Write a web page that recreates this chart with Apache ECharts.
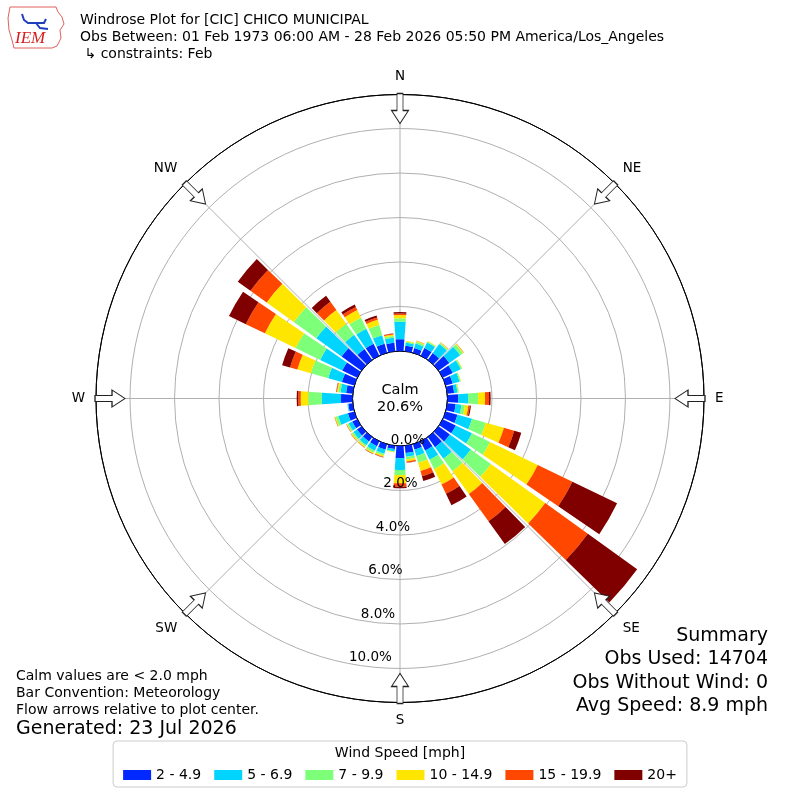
<!DOCTYPE html>
<html>
<head>
<meta charset="utf-8">
<script src="https://cdn.jsdelivr.net/npm/echarts@6/dist/echarts.min.js"></script>
<style>html,body{margin:0;padding:0;background:#fff}#c{width:800px;height:800px}</style>
</head>
<body>
<div id="c"></div>
<script>
// ---------------- data ----------------
const directions = [0,10,20,30,40,50,60,70,80,90,100,110,120,130,140,150,160,170,180,190,200,210,220,230,240,250,260,270,280,290,300,310,320,330,340,350];
const speedBins = ['2 - 4.9','5 - 6.9','7 - 9.9','10 - 14.9','15 - 19.9','20+'];
const binColors = ['#0028ff','#00d4ff','#7dff7a','#ffe600','#ff4700','#800000'];
// percent of observations per direction (N, 10, 20 ... 350) for each speed bin
const spd2to5   = [0.53,0.25,0.22,0.39,0.38,0.60,0.50,0.33,0.31,0.49,0.38,0.55,0.65,0.63,0.56,0.46,0.25,0.33,0.55,0.15,0.25,0.25,0.25,0.25,0.25,0.30,0.20,0.52,0.30,0.58,0.75,1.10,0.60,0.60,0.42,0.38];
const spd5to7   = [0.79,0.13,0.21,0.27,0.50,0.60,0.40,0.32,0.15,0.44,0.26,0.68,0.81,1.16,0.64,0.46,0.30,0.17,0.53,0.10,0.20,0.22,0.20,0.20,0.18,0.45,0.04,0.86,0.25,0.64,1.10,1.40,0.80,0.75,0.40,0.23];
const spd7to10  = [0.15,0.05,0.09,0.05,0.06,0.15,0.06,0.05,0.05,0.45,0.16,0.64,0.90,1.11,0.70,0.47,0.32,0.11,0.22,0.03,0.08,0.10,0.08,0.08,0.07,0.12,0.01,0.61,0.10,0.81,1.23,1.25,0.60,0.55,0.48,0.09];
const spd10to15 = [0.15,0.03,0.03,0.02,0.03,0.04,0.02,0.02,0.02,0.31,0.15,0.85,2.38,3.01,1.26,0.77,0.38,0.10,0.38,0.02,0.06,0.05,0.05,0.05,0.03,0.04,0.00,0.34,0.06,0.63,1.53,1.50,0.76,0.38,0.24,0.06];
const spd15to20 = [0.07,0.00,0.01,0.00,0.01,0.01,0.00,0.00,0.00,0.18,0.07,0.48,1.73,2.36,1.51,0.46,0.25,0.05,0.15,0.00,0.02,0.02,0.02,0.02,0.02,0.02,0.00,0.11,0.03,0.34,0.95,0.90,0.46,0.15,0.11,0.04];
const spd20plus = [0.06,0.00,0.00,0.00,0.00,0.00,0.00,0.00,0.00,0.07,0.05,0.33,2.23,2.73,1.26,0.57,0.22,0.01,0.07,0.00,0.01,0.01,0.00,0.00,0.00,0.00,0.00,0.07,0.01,0.37,0.84,0.70,0.33,0.12,0.09,0.01];
const compassLabels = ['N','NE','E','SE','S','SW','W','NW'];
const compassAngles = [0,45,90,135,180,225,270,315];
const radialTicks = [0,2,4,6,8,10];
const calmPct = 20.6;
const radiusMax = 11.53;

// ---------------- chart ----------------
const FONT = 'DejaVu Sans';
const C = [400, 398.5];
const binData = [spd2to5, spd5to7, spd7to10, spd10to15, spd15to20, spd20plus];
const arrowPath = 'path://M-3 0 L3 0 L3 17 L8.5 17 L0 30 L-8.5 17 L-3 17 Z';
const arrowRadius = 10.9;

const series = binData.map((d, i) => ({
  name: speedBins[i], type: 'bar', coordinateSystem: 'polar', polarIndex: 1,
  stack: 'wind', data: d, barCategoryGap: '15%',
  itemStyle: { color: binColors[i] }, z: 3, animation: false
}));
series.push({
  type: 'scatter', coordinateSystem: 'polar', polarIndex: 0,
  symbol: arrowPath, symbolSize: [17, 30], silent: true, z: 10, animation: false,
  data: compassAngles.map(a => ({ value: [arrowRadius, a], symbolRotate: -a })),
  itemStyle: { color: '#fff', borderColor: '#222', borderWidth: 1, opacity: 1 }
});

const gridColors = radialTicks.map((t, i) => i === 0 ? '#000' : '#b0b0b0').concat(['#000']);
const hidden = { axisLine: { show: false }, axisTick: { show: false }, axisLabel: { show: false }, splitLine: { show: false } };

const txt = (x, y, text, size, extra, z) => ({
  type: 'text', silent: true, z: z || 50,
  style: Object.assign({ x, y, text, font: size + 'px "' + FONT + '"', fill: '#000', verticalAlign: 'middle', align: 'left' }, extra || {})
});

const option = {
  animation: false,
  backgroundColor: '#fff',
  polar: [
    { center: C, radius: [47.5, 304] },
    { center: C, radius: [47.5, 304] },
    { center: C, radius: [40, 294] }
  ],
  angleAxis: [
    { polarIndex: 0, type: 'value', min: 0, max: 360, interval: 45, startAngle: 90, clockwise: true,
      axisLine: { show: true, lineStyle: { color: '#000', width: 1 } },
      axisTick: { show: false },
      axisLabel: { show: true, margin: 11, fontSize: 13.5, color: '#000', fontFamily: FONT,
        formatter: v => (v < 360 ? compassLabels[Math.round(v / 45)] : '') },
      splitLine: { show: true, lineStyle: { color: '#b0b0b0', width: 1 } } },
    Object.assign({ polarIndex: 1, type: 'category', data: directions.map(String), startAngle: 95, clockwise: true, boundaryGap: true }, hidden),
    Object.assign({ polarIndex: 2, type: 'value', min: 0, max: 360, startAngle: 260.2, clockwise: true }, hidden)
  ],
  radiusAxis: [
    { polarIndex: 0, type: 'value', min: 0, max: radiusMax, interval: 2,
      axisLine: { show: false }, axisTick: { show: false }, axisLabel: { show: false },
      splitLine: { show: true, lineStyle: { color: gridColors, width: 1 } } },
    Object.assign({ polarIndex: 1, type: 'value', min: 0, max: radiusMax }, hidden),
    { polarIndex: 2, type: 'value', min: 0, max: radiusMax, interval: 2, z: 20,
      axisLine: { show: false }, axisTick: { show: false }, splitLine: { show: false },
      axisLabel: { show: true, margin: 15, align: 'center', verticalAlign: 'middle', fontSize: 13.5, color: '#000', fontFamily: FONT,
        formatter: v => (radialTicks.some(t => Math.abs(t - v) < 1e-6) ? v.toFixed(1) + '%' : '') } }
  ],
  legend: {
    data: speedBins, left: 'center', top: 741, orient: 'horizontal', z: 5,
    itemWidth: 28, itemHeight: 10, itemGap: 13,
    padding: [27, 10, 5, 10], borderColor: '#cccccc', borderWidth: 1, borderRadius: 4, backgroundColor: '#fff',
    icon: 'rect', selectedMode: false,
    textStyle: { fontSize: 14, color: '#000', fontFamily: FONT }
  },
  series,
  graphic: {
    elements: [
      // IEM logo (decorative)
      { type: 'polygon', silent: true,
        shape: { points: [[10,7],[56,7],[58,12],[62,17],[64,24],[60,30],[61,38],[57,46],[52,48],[14,48],[12,40],[9,30],[8,18]] },
        style: { fill: '#fff', stroke: '#e06060', lineWidth: 1 } },
      { type: 'polyline', silent: true, shape: { points: [[22,14],[24,20],[28,23],[44,23],[46,19]] }, style: { stroke: '#1f3fbf', lineWidth: 2, fill: null } },
      { type: 'polyline', silent: true, shape: { points: [[36,23],[40,28],[48,29]] }, style: { stroke: '#1f3fbf', lineWidth: 2, fill: null } },
      txt(15, 39, 'IEM', 17, { font: 'italic 17px "Liberation Serif"', fill: '#d42020' }),
      // header
      txt(80, 20, 'Windrose Plot for [CIC] CHICO MUNICIPAL', 14),
      txt(80, 37, 'Obs Between: 01 Feb 1973 06:00 AM - 28 Feb 2026 05:50 PM America/Los_Angeles', 14),
      txt(80, 54, ' \u21b3 constraints: Feb', 14),
      // calm
      txt(C[0], C[1] - 8, 'Calm', 14.5, { align: 'center' }),
      txt(C[0], C[1] + 9, calmPct.toFixed(1) + '%', 14.5, { align: 'center' }),
      // notes
      txt(16, 676, 'Calm values are < 2.0 mph', 14),
      txt(16, 693, 'Bar Convention: Meteorology', 14),
      txt(16, 710, 'Flow arrows relative to plot center.', 14),
      txt(16, 729, 'Generated: 23 Jul 2026', 19),
      // summary
      txt(768, 636, 'Summary', 19, { align: 'right' }),
      txt(768, 659, 'Obs Used: 14704', 19, { align: 'right' }),
      txt(768, 683, 'Obs Without Wind: 0', 19, { align: 'right' }),
      txt(768, 706, 'Avg Speed: 8.9 mph', 19, { align: 'right' }),
      // legend title
      txt(400, 753, 'Wind Speed [mph]', 14, { align: 'center' }, 200)
    ]
  }
};

const chart = echarts.init(document.getElementById('c'), null, { renderer: 'canvas' });
chart.setOption(option);
</script>
</body>
</html>
